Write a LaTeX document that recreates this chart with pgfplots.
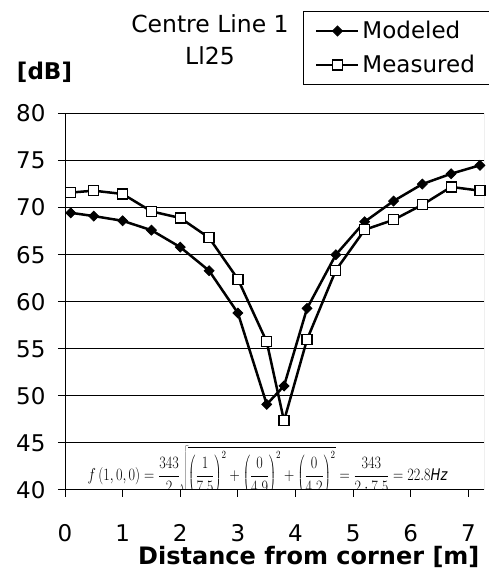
\documentclass[border=0pt]{standalone}
\usepackage{fontspec}
\setmainfont{DejaVu Sans}
\usepackage{graphicx}
\usepackage{pgfplots}
\usepackage{pgfplotstable}
\pgfplotsset{compat=1.18}
\newcommand{\pf}[2]{\left(\frac{#1\rule{0pt}{14pt}}{#2\rule[-6pt]{0pt}{6pt}}\right)}

\pgfplotstableread{
x mod meas
0.1 69.45 71.6
0.5 69.1 71.8
1.0 68.6 71.45
1.5 67.6 69.6
2.0 65.8 68.9
2.5 63.3 66.8
3.0 58.8 62.4
3.5 49.1 55.75
3.8 51.05 47.35
4.2 59.3 56.0
4.7 65.0 63.35
5.2 68.5 67.65
5.7 70.7 68.7
6.2 72.5 70.3
6.7 73.6 72.2
7.2 74.5 71.8
}\datatable

\begin{document}
\begin{tikzpicture}[x=1pt,y=1pt]
\useasboundingbox (0,0) rectangle (488,580);
\begin{axis}[
  at={(65pt,90pt)}, anchor=south west,
  scale only axis, width=419pt, height=376.5pt,
  xmin=0, xmax=7.27, ymin=40, ymax=80,
  xtick={0,1,2,3,4,5,6,7}, ytick={40,45,...,80},
  axis lines=left, axis line style={-, black, line width=1pt},
  ymajorgrids, major grid style={black, line width=1pt},
  tick align=outside, major tick length=7pt,
  tick style={black, line width=1pt},
  /pgf/number format/assume math mode=true,
  ticklabel style={font=\fontsize{23}{28}\selectfont},
  yticklabel style={xshift=-9pt},
  xticklabel style={yshift=-24pt},
  title={Centre Line 1\\Ll25},
  title style={align=center, font=\fontsize{23.5}{32.4}\selectfont,
    at={(axis description cs:0.346,1.257)}, anchor=north},
  xlabel={Distance from corner [m]},
  xlabel style={font=\bfseries\fontsize{24}{28}\selectfont,
    at={(axis description cs:0.9976,-0.199)}, anchor=base east},
  ylabel={[dB]},
  ylabel style={rotate=-90, font=\bfseries\fontsize{23}{28}\selectfont,
    at={(axis description cs:-0.0489,1.110)}, anchor=center},
  legend style={at={(axis description cs:0.568,1.2722)}, anchor=north west,
    draw=black, line width=1pt, font=\fontsize{23}{28}\selectfont,
    inner xsep=12pt, inner ysep=7pt, row sep=9pt,
    nodes={inner sep=3pt}},
  legend cell align=left,
  legend image code/.code={%
    \draw[#1, mark repeat=2, mark phase=2, line width=2pt]
      plot coordinates {(0pt,0pt) (21pt,0pt) (42pt,0pt)};},
]
\addplot[black, line width=2.5pt, mark=square*,
  mark options={solid, rotate=45, fill=black, line width=0.8pt}, mark size=3.5pt]
  table[x=x, y=mod] {\datatable};
\addlegendentry{Modeled}
\addplot[black, line width=2.5pt, mark=square*,
  mark options={solid, fill=white, draw=black, line width=1.2pt}, mark size=5pt]
  table[x=x, y=meas] {\datatable};
\addlegendentry{Measured\hspace{20pt}}
\draw[gray, line width=1pt] (rel axis cs:1,0) -- (rel axis cs:1,1);
\end{axis}
\begin{scope}
\clip (65,90) rectangle (484,466.5);
\node[font=\fontsize{16}{18}\selectfont, anchor=north, inner sep=0pt] at (267.5,134)
  {\scalebox{0.82}[1]{$\displaystyle f\left(1,0,0\right)=\frac{343}{2}\sqrt{\pf{1}{7.5}^{2}+\pf{0}{4.9}^{2}+\pf{0}{4.2}^{2}}=\frac{343}{2\cdot 7.5}=22.8\mathit{Hz}$}};
\end{scope}
\end{tikzpicture}
\end{document}
